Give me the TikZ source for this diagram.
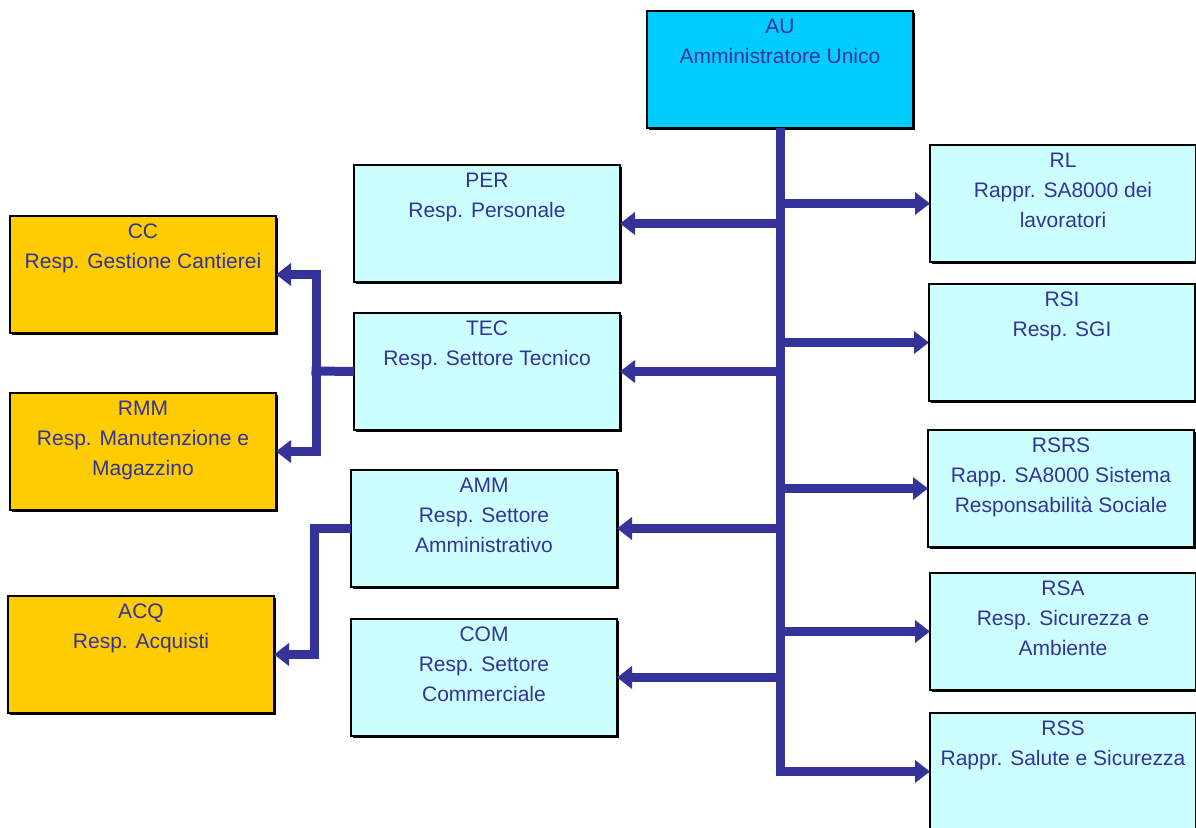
\documentclass[tikz,border=0pt]{standalone}
\usepackage{fontspec}
\setmainfont{Liberation Sans}
\usetikzlibrary{arrows.meta,shadows}
\definecolor{txt}{HTML}{333399}
\definecolor{ln}{HTML}{333399}
\definecolor{aufill}{HTML}{00CCFF}
\definecolor{lightc}{HTML}{CCFFFF}
\definecolor{orng}{HTML}{FFCC00}
\newcommand\btext[1]{\parbox[t][117pt][t]{266pt}{\centering\fontsize{21}{30}\selectfont\color{txt}\rule{0pt}{22pt}#1}}
\tikzset{
  box/.style={draw=black, line width=1.4pt, inner sep=0pt, outer sep=0pt, anchor=north west,
    minimum width=266pt, minimum height=117pt,
    drop shadow={shadow xshift=1.8pt, shadow yshift=-1.8pt, fill=black, opacity=1}},
  aubox/.style={box, fill=aufill},
  cbox/.style={box, fill=lightc},
  obox/.style={box, fill=orng},
  conn/.style={draw=ln, line width=9pt},
  arr/.style={conn, -{Triangle[length=15pt,width=22pt]}},
}
\begin{document}
\begin{tikzpicture}[x=1pt,y=-1pt]
\useasboundingbox (0,0) rectangle (1196,827);
\clip (0,0) rectangle (1196,827);
% top
\node[aubox] (AU) at (647,11) {\btext{AU\\Amministratore Unico}};
% left column
\node[cbox] (PER) at (354,165) {\btext{PER\\Resp. Personale}};
\node[cbox] (TEC) at (354,313) {\btext{TEC\\Resp. Settore Tecnico}};
\node[cbox] (AMM) at (351,470) {\btext{AMM\\Resp. Settore\\Amministrativo}};
\node[cbox] (COM) at (351,619) {\btext{COM\\Resp. Settore\\Commerciale}};
% right column
\node[cbox] (RL) at (930,145) {\btext{RL\\Rappr. SA8000 dei\\lavoratori}};
\node[cbox] (RSI) at (929,284) {\btext{RSI\\Resp. SGI}};
\node[cbox] (RSRS) at (928,430) {\btext{RSRS\\Rapp. SA8000 Sistema\\Responsabilità Sociale}};
\node[cbox] (RSA) at (930,573) {\btext{RSA\\Resp. Sicurezza e\\Ambiente}};
\node[cbox] (RSS) at (930,713) {\btext{RSS\\Rappr. Salute e Sicurezza}};
% orange
\node[obox] (CC) at (10,216) {\btext{CC\\Resp. Gestione Cantierei}};
\node[obox] (RMM) at (10,393) {\btext{RMM\\Resp. Manutenzione e\\Magazzino}};
\node[obox] (ACQ) at (8,596) {\btext{ACQ\\Resp. Acquisti}};
% trunk
\draw[arr] (AU.south) -- (AU.south |- RSS.west) -- (RSS.west);
% left branches
\foreach \n in {PER,TEC,AMM,COM}{\draw[arr] (AU.south |- \n.east) -- (\n.east);}
% right branches
\foreach \n in {RL,RSI,RSRS,RSA}{\draw[arr] (AU.south |- \n.west) -- (\n.west);}
% TEC sub-branch
\coordinate (tj) at (316,371);
\draw[conn, shorten >=-4.5pt] (TEC.west) -- (tj);
\draw[arr,{Triangle[length=15pt,width=22pt]}-{Triangle[length=15pt,width=22pt]}] (CC.east) -| (tj) |- (RMM.east);
% AMM sub-branch
\coordinate (aj) at (314,600);
\draw[arr] (AMM.west) -| (aj) |- (ACQ.east);
\end{tikzpicture}
\end{document}
